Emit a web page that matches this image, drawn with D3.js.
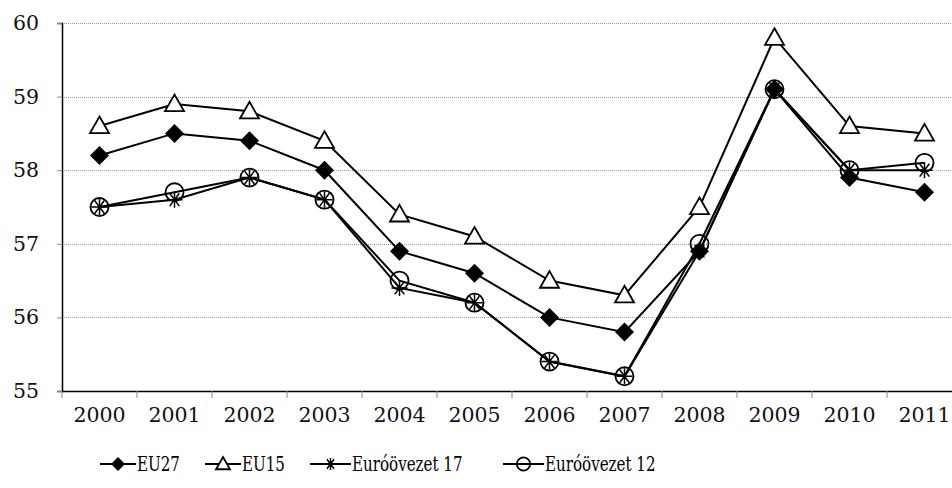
<!DOCTYPE html>
<html>
<head>
<meta charset="utf-8">
<script src="https://cdn.jsdelivr.net/npm/d3@7"></script>
<style>
  body { margin: 0; background: #fff; }
  #chart { width: 952px; height: 488px; }
  .tick text { font-family: "DejaVu Serif", serif; font-size: 20.5px; fill: #111; }
  .legend text { font-family: "DejaVu Serif Condensed", "DejaVu Serif", serif; font-stretch: condensed; font-size: 21px; fill: #000; }
</style>
</head>
<body>
<div id="chart"></div>
<script>
const years = ["2000","2001","2002","2003","2004","2005","2006","2007","2008","2009","2010","2011"];
const eu27 = [58.2, 58.5, 58.4, 58.0, 56.9, 56.6, 56.0, 55.8, 56.9, 59.1, 57.9, 57.7];
const eu15 = [58.6, 58.9, 58.8, 58.4, 57.4, 57.1, 56.5, 56.3, 57.5, 59.8, 58.6, 58.5];
const ez17 = [57.5, 57.6, 57.9, 57.6, 56.4, 56.2, 55.4, 55.2, 56.9, 59.1, 58.0, 58.0];
const ez12 = [57.5, 57.7, 57.9, 57.6, 56.5, 56.2, 55.4, 55.2, 57.0, 59.1, 58.0, 58.1];
const yTicks = [55, 56, 57, 58, 59, 60];

const series = [
    {name: "EU27", values: eu27, marker: "diamond"},
    {name: "EU15", values: eu15, marker: "triangle"},
    {name: "Euróövezet 17", values: ez17, marker: "star"},
    {name: "Euróövezet 12", values: ez12, marker: "circle"}
];

const margin = {top: 23, right: -10, bottom: 97, left: 62};
const W = 952, H = 488;
const width = W - margin.left - margin.right;
const height = H - margin.top - margin.bottom;

const svg = d3.select("#chart").append("svg")
    .attr("width", W)
    .attr("height", H);

const g = svg.append("g")
    .attr("transform", `translate(${margin.left}, ${margin.top})`);

const x = d3.scaleBand()
    .domain(years)
    .range([0, width]);

const y = d3.scaleLinear()
    .domain([55, 60])
    .range([height, 0]);

// gridlines
g.selectAll(".grid")
    .data(yTicks.filter(d => d > 55))
    .enter()
    .append("line")
    .attr("x1", 0)
    .attr("x2", width)
    .attr("y1", d => Math.round(y(d)) + 0.5)
    .attr("y2", d => Math.round(y(d)) + 0.5)
    .attr("stroke", "#999")
    .attr("stroke-width", 1)
    .attr("stroke-dasharray", "1,1");

// y axis
const yAxis = g.append("g")
    .attr("class", "axis")
    .call(d3.axisLeft(y).tickValues(yTicks).tickSize(5).tickPadding(18).tickFormat(d3.format("d")));
yAxis.select(".domain").attr("stroke", "#000").attr("stroke-width", 1.5);
yAxis.selectAll(".tick line").attr("stroke", "#888");

// x axis, ticks sit between categories
const xAxis = g.append("g")
    .attr("class", "axis")
    .attr("transform", `translate(0, ${height})`)
    .call(d3.axisBottom(x).tickSize(0).tickPadding(16));
xAxis.select(".domain").attr("stroke", "#000").attr("stroke-width", 1.5);

g.selectAll(".xtick")
    .data(d3.range(years.length + 1))
    .enter()
    .append("line")
    .attr("x1", i => i * x.step())
    .attr("x2", i => i * x.step())
    .attr("y1", height)
    .attr("y2", height + 7)
    .attr("stroke", "#888");

const line = d3.line()
    .x((d, i) => x(years[i]) + x.bandwidth() / 2)
    .y(d => y(d));

function drawMarker(sel, type, s) {
    if (type === "diamond") {
        sel.append("path")
            .attr("d", `M0,${-s}L${s},0L0,${s}L${-s},0Z`)
            .attr("fill", "#000");
    } else if (type === "triangle") {
        sel.append("path")
            .attr("d", `M0,${-s}L${s},${s * 0.75}L${-s},${s * 0.75}Z`)
            .attr("fill", "#fff")
            .attr("stroke", "#000")
            .attr("stroke-width", 1.8);
    } else if (type === "star") {
        const r = s * 0.85;
        sel.append("path")
            .attr("d", `M${-r},0L${r},0M${-r * 0.6},${-r * 0.8}L${r * 0.6},${r * 0.8}M${-r * 0.6},${r * 0.8}L${r * 0.6},${-r * 0.8}M0,${-r}L0,${r}`)
            .attr("fill", "none")
            .attr("stroke", "#000")
            .attr("stroke-width", 1.5);
    } else if (type === "circle") {
        sel.append("circle")
            .attr("r", s * 0.95)
            .attr("fill", "none")
            .attr("stroke", "#000")
            .attr("stroke-width", 1.8);
    }
}

series.forEach(s => {
    g.append("path")
        .datum(s.values)
        .attr("fill", "none")
        .attr("stroke", "#000")
        .attr("stroke-width", 2)
        .attr("d", line);

    g.selectAll(null)
        .data(s.values)
        .enter()
        .append("g")
        .attr("transform", (d, i) => `translate(${x(years[i]) + x.bandwidth() / 2}, ${y(d)})`)
        .each(function() { drawMarker(d3.select(this), s.marker, 9.5); });
});

// legend
const legendItems = [
    {x: 100, text: 137},
    {x: 205, text: 242},
    {x: 310, text: 352},
    {x: 503, text: 545}
];
const legend = svg.append("g").attr("class", "legend");
series.forEach((s, i) => {
    const lg = legend.append("g");
    const pos = legendItems[i];
    lg.append("line")
        .attr("x1", pos.x)
        .attr("x2", pos.text - 1)
        .attr("y1", 464)
        .attr("y2", 464)
        .attr("stroke", "#000")
        .attr("stroke-width", 2);
    const m = lg.append("g").attr("transform", `translate(${(pos.x + pos.text - 1) / 2}, 464)`);
    drawMarker(m, s.marker, 7);
    lg.append("text")
        .attr("transform", `translate(${pos.text}, 464) scale(0.8, 1)`)
        .attr("dy", "0.35em")
        .text(s.name);
});
</script>
</body>
</html>
